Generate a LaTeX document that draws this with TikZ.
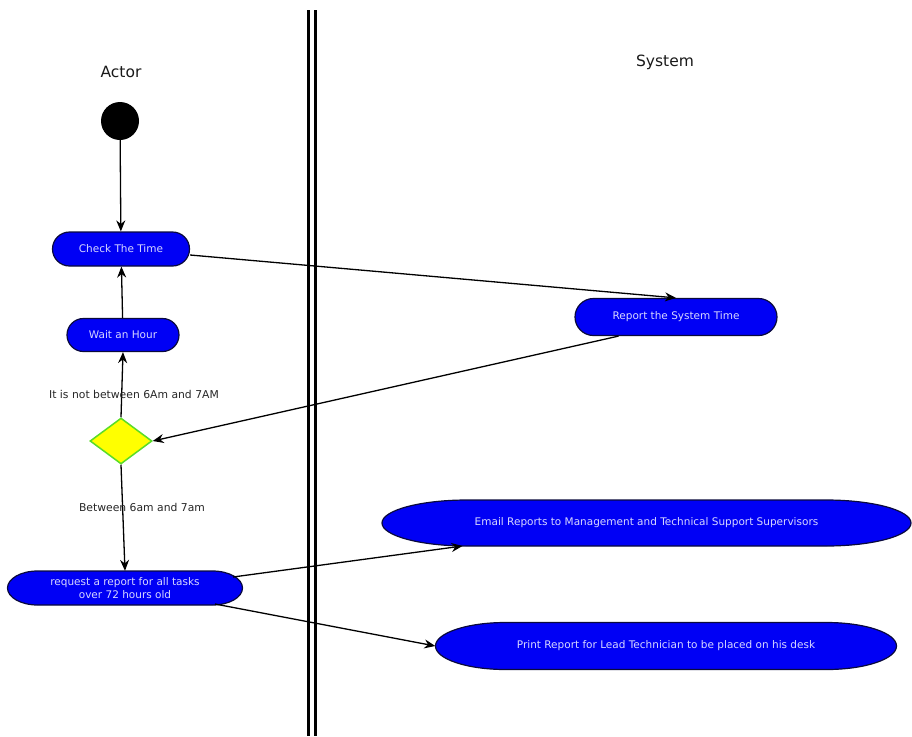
\documentclass[tikz,border=0pt]{standalone}
\usepackage{fontspec}
\setmainfont{DejaVu Sans}
\usetikzlibrary{shapes.geometric,shapes.misc,arrows.meta,calc,backgrounds}
\definecolor{actblue}{RGB}{0,0,245}
\definecolor{actedge}{RGB}{10,10,60}
\definecolor{acttext}{RGB}{215,215,255}
\definecolor{decfill}{RGB}{255,255,0}
\definecolor{decedge}{RGB}{90,220,40}
\tikzset{
  act/.style={rounded rectangle, fill=actblue, draw=actedge, line width=1.2pt,
    text=acttext, font=\fontsize{10.5}{12.5}\selectfont, inner sep=0pt, align=center},
  acttxt/.style={rectangle, text=acttext, font=\fontsize{10.5}{12.5}\selectfont, inner sep=0pt, align=center},
  pill/.style={fill=actblue, draw=actedge, line width=1.2pt},
  flow/.style={line width=1.3pt, -{Stealth[length=11pt,width=9pt]}},
  lbl/.style={font=\fontsize{10.8}{13}\selectfont, text=black!85, inner sep=1pt},
  lane/.style={line width=3pt},
  title/.style={font=\fontsize{15.5}{18}\selectfont, text=black!90}
}
% pill with elliptical ends: #1 node name, #2 half width, #3 half height, #4 end radius
\newcommand{\pillbg}[4]{%
  \begin{scope}[shift={(#1.center)}, x=1pt, y=1pt]
    \path[pill] (-#2+#4,#3) -- (#2-#4,#3)
      arc[start angle=90, end angle=-90, x radius=#4, y radius=#3]
      -- (-#2+#4,-#3)
      arc[start angle=270, end angle=90, x radius=#4, y radius=#3] -- cycle;
  \end{scope}}
\begin{document}
\begin{tikzpicture}[x=1pt,y=-1pt]
\useasboundingbox (0,0) rectangle (912,736);
% swimlane divider
\coordinate (l1t) at (308,10); \coordinate (l1b) at (308,736);
\coordinate (l2t) at (315,10); \coordinate (l2b) at (315,736);
\draw[lane] (l1t) -- (l1b);
\draw[lane] (l2t) -- (l2b);
% lane titles
\node[title] (actor) at (121,72) {Actor};
\node[title] (system) at (665,62) {System};
% nodes
\node[circle, fill=black, minimum size=38pt, inner sep=0pt] (start) at (120,121) {};
\node[act, minimum width=137pt, minimum height=34pt] (check) at (121,249) {Check The Time};
\node[act, minimum width=112pt, minimum height=33pt] (wait) at (123,335) {Wait an Hour};
\node[diamond, fill=decfill, draw=decedge, line width=1.5pt, minimum width=62pt, minimum height=46pt, inner sep=0pt] (dec) at (121,441) {};
\node[acttxt, minimum width=235pt, minimum height=34pt] (req) at (125,588) {request a report for all tasks\\over 72 hours old};
\node[act, minimum width=202pt, minimum height=37pt] (report) at (676,317) {Report the System Time};
\node[acttxt, minimum width=529pt, minimum height=46pt] (email) at (646.5,523) {Email Reports to Management and Technical Support Supervisors};
\node[acttxt, minimum width=461pt, minimum height=47pt] (print) at (666,646) {Print Report for Lead Technician to be placed on his desk};
\begin{pgfonlayer}{background}
  \pillbg{req}{117.5}{17}{30}
  \pillbg{email}{264.5}{23}{85}
  \pillbg{print}{230.5}{23.5}{70}
\end{pgfonlayer}
% connector end points on the borders
\coordinate (ce) at ($(check.east)+(0,6)$);
\coordinate (rs) at ($(report.south west)+(25,0)$);
\coordinate (rq1) at ($(req.center)+(108,-11)$);
\coordinate (em1) at ($(email.center)+(-184,23)$);
\coordinate (rq2) at ($(req.center)+(90,16)$);
% connectors
\draw[flow] (start) -- (check);
\draw[flow] (wait) -- (check);
\draw[flow] (dec.north) -- (wait.south);
\draw[flow] (ce) -- (report.north);
\draw[flow] (rs) -- (dec.east);
\draw[flow] (dec.south) -- (req.north);
\draw[flow] (rq1) -- (em1);
\draw[flow] (rq2) -- (print.west);
% labels
\node[lbl] (l1) at (134,394) {It is not between 6Am and 7AM};
\node[lbl] (l2) at (142,507) {Between 6am and 7am};
\end{tikzpicture}
\end{document}
